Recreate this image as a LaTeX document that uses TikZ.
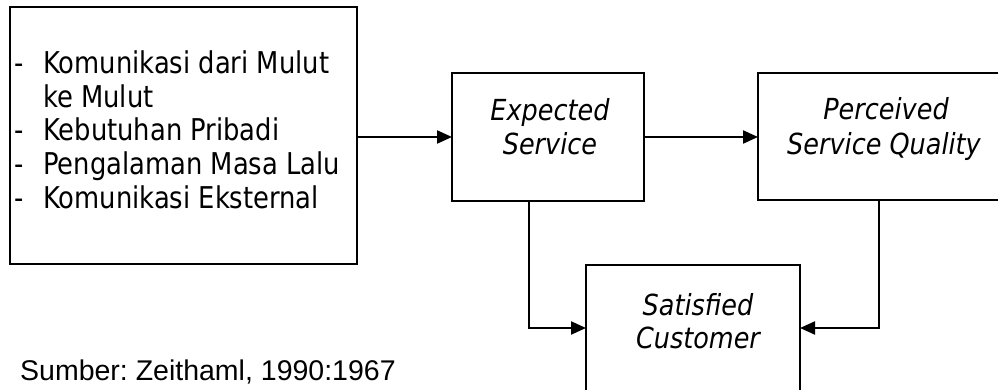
\documentclass[tikz,border=0pt]{standalone}
\usepackage{fontspec}
\usetikzlibrary{arrows.meta}
\newfontfamily\listfont[FakeStretch=0.86]{DejaVu Sans}
\newfontfamily\boxfont[FakeStretch=0.88]{DejaVu Sans}
\newfontfamily\srcfont{Liberation Sans}
\tikzset{
  frame/.style={draw=black, line width=2.2pt, fill=white, inner sep=0pt, outer sep=0pt},
  listtext/.style={font=\listfont\fontsize{30}{33}\selectfont, anchor=base west, inner sep=0pt},
  boxtext/.style={font=\boxfont\itshape\fontsize{29}{33}\selectfont, anchor=base, inner sep=0pt},
  flow/.style={draw=black, line width=2.2pt, -{Triangle[length=15pt,width=13pt]}},
}
\begin{document}
\begin{tikzpicture}[x=1pt,y=-1pt]
\useasboundingbox (0,0) rectangle (998,390);
\begin{scope}
\clip (0,0) rectangle (998,390);

% boxes
\node[frame, minimum width=347pt, minimum height=257pt] (src) at (183.5,135.5) {};
\node[frame, minimum width=192pt, minimum height=128pt] (exp) at (548,137) {};
\node[frame, minimum width=252pt, minimum height=127pt] (per) at (884,136.5) {};
\node[frame, minimum width=214pt, minimum height=140pt] (sat) at (693,335) {};

% list of factors
\node[listtext] (d1) at (14,74) {-};
\node[listtext] (l1) at (43,74) {Komunikasi dari Mulut};
\node[listtext] (l1b) at (43,107.5) {ke Mulut};
\node[listtext] (d2) at (14,141) {-};
\node[listtext] (l2) at (43,141) {Kebutuhan Pribadi};
\node[listtext] (d3) at (14,174.5) {-};
\node[listtext] (l3) at (43,174.5) {Pengalaman Masa Lalu};
\node[listtext] (d4) at (14,208) {-};
\node[listtext] (l4) at (43,208) {Komunikasi Eksternal};

% box labels
\node[boxtext] (e1) at (550,121) {Expected};
\node[boxtext] (e2) at (550,155) {Service};
\node[boxtext] (p1) at (886,120) {Perceived};
\node[boxtext] (p2) at (884,155) {Service Quality};
\node[boxtext] (s1) at (698,315) {Satisfied};
\node[boxtext] (s2) at (698,348) {Customer};

% connectors
\draw[flow] (exp.west -| src.east) -- (exp.west);
\draw[flow] (exp.east) -- (exp.east -| per.west);
\draw[flow] ([xshift=77pt]exp.south west) |- ([yshift=7pt]sat.west);
\draw[flow] ([xshift=121pt]per.south west) |- ([yshift=7pt]sat.east);

% source note
\node[font=\srcfont\fontsize{28.5}{33}\selectfont\frenchspacing, anchor=base west, inner sep=0pt] (note) at (20,380) {Sumber: Zeithaml, 1990:1967};
\end{scope}
\end{tikzpicture}
\end{document}
